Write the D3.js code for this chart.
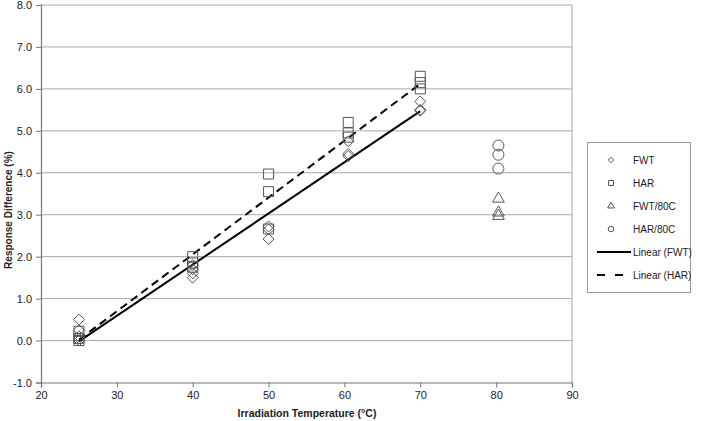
<!DOCTYPE html>
<html>
<head>
<meta charset="utf-8">
<script src="https://cdn.jsdelivr.net/npm/d3@7"></script>
<style>
  body { margin: 0; background: #fff; }
  text { font-family: "Liberation Sans", Arial, sans-serif; }
</style>
</head>
<body>
<div id="chart"></div>
<script>
// 数据：从图中读取
const fwt = [
  [25, 0.5], [25, 0.25], [25, 0.1], [25, 0.05], [25, 0.0],
  [40, 1.8], [40, 1.7], [40, 1.6], [40, 1.5],
  [50, 2.72], [50, 2.65], [50, 2.42],
  [60.5, 4.75], [60.5, 4.45], [60.5, 4.4],
  [70, 5.7], [70, 5.5], [70, 5.48]
];
const har = [
  [25, 0.22], [25, 0.05], [25, 0.0],
  [40, 2.0], [40, 1.85], [40, 1.75],
  [50, 3.97], [50, 3.55], [50, 2.66],
  [60.5, 5.2], [60.5, 4.95], [60.5, 4.85],
  [70, 6.3], [70, 6.15], [70, 6.0]
];
const fwt80 = [[80.3, 3.38], [80.3, 3.05], [80.3, 2.97]];
const har80 = [[80.3, 4.65], [80.3, 4.43], [80.3, 4.1]];
const fwtFit = [[25, -0.02], [70, 5.47]];
const harFit = [[25, 0.02], [70, 6.12]];
const xTicks = [20, 30, 40, 50, 60, 70, 80, 90];
const yTicks = [-1, 0, 1, 2, 3, 4, 5, 6, 7, 8];
const legendItems = ["FWT", "HAR", "FWT/80C", "HAR/80C", "Linear (FWT)", "Linear (HAR)"];

const width = 705, height = 421;
const mLeft = 41, mRight = 572, mTop = 5, mBottom = 382.5;

const svg = d3.select("#chart").append("svg")
  .attr("width", width).attr("height", height);

const x = d3.scaleLinear().domain([20, 90]).range([mLeft, mRight]);
const y = d3.scaleLinear().domain([-1, 8]).range([mBottom, mTop]);

// 网格线
svg.append("g")
  .selectAll("line")
  .data(yTicks.slice(1))
  .join("line")
  .attr("x1", mLeft).attr("x2", mRight)
  .attr("y1", d => y(d)).attr("y2", d => y(d))
  .style("stroke", "#a8a8a8").style("stroke-width", 1);

// 右边框
svg.append("line")
  .attr("x1", mRight).attr("x2", mRight).attr("y1", mTop).attr("y2", mBottom)
  .style("stroke", "#a8a8a8");

// 坐标轴
const xAxis = svg.append("g")
  .attr("transform", `translate(0,${mBottom})`)
  .call(d3.axisBottom(x).tickValues(xTicks).tickSize(5).tickFormat(d3.format("d")));
const yAxis = svg.append("g")
  .attr("transform", `translate(${mLeft},0)`)
  .call(d3.axisLeft(y).tickValues(yTicks).tickSize(5).tickFormat(d => d.toFixed(1)));

[xAxis, yAxis].forEach(a => {
  a.select(".domain").style("stroke", "#777").style("stroke-width", 1.2);
  a.selectAll(".tick line").style("stroke", "#777");
  a.selectAll(".tick text").style("font-size", "11px").style("fill", "#222");
});
xAxis.selectAll(".tick text").attr("dy", "0.8em");
yAxis.selectAll(".tick text").attr("dx", "-1px");

// 趋势线
const line = d3.line().x(d => x(d[0])).y(d => y(d[1]));
svg.append("path").datum(fwtFit).attr("d", line)
  .style("fill", "none").style("stroke", "#000").style("stroke-width", 2);
svg.append("path").datum(harFit).attr("d", line)
  .style("fill", "none").style("stroke", "#000").style("stroke-width", 2)
  .style("stroke-dasharray", "8,5");

// 标记
const markStyle = sel => sel.style("fill", "none").style("stroke", "#555").style("stroke-width", 1);
const sym = (type, size) => d3.symbol().type(type).size(size)();

function drawPoints(data, type, size) {
  svg.append("g").selectAll("path")
    .data(data)
    .join("path")
    .attr("d", sym(type, size))
    .attr("transform", d => `translate(${x(d[0])},${y(d[1])})`)
    .call(markStyle);
}
const diamond = {
  draw(ctx, s) { const r = Math.sqrt(s) / 2; ctx.moveTo(0, -r); ctx.lineTo(r, 0); ctx.lineTo(0, r); ctx.lineTo(-r, 0); ctx.closePath(); }
};
drawPoints(fwt, diamond, 121);
drawPoints(har, d3.symbolSquare, 100);
drawPoints(fwt80, d3.symbolTriangle, 60);
drawPoints(har80, d3.symbolCircle, 95);

// 坐标轴标题
svg.append("text")
  .attr("x", 307).attr("y", 417)
  .attr("text-anchor", "middle")
  .style("font-size", "10.5px").style("font-weight", "bold").style("fill", "#222")
  .text("Irradiation Temperature (°C)");
svg.append("text")
  .attr("transform", `translate(12,210) rotate(-90)`)
  .attr("text-anchor", "middle")
  .style("font-size", "10px").style("font-weight", "bold").style("fill", "#222")
  .text("Response Difference (%)");

// 图例
const lg = svg.append("g");
lg.append("rect")
  .attr("x", 587.5).attr("y", 142.5).attr("width", 103).attr("height", 150)
  .style("fill", "#fff").style("stroke", "#999");
const ly = d3.scalePoint().domain(legendItems).range([160, 275]);
const legendSym = [
  [diamond, 30], [d3.symbolSquare, 25], [d3.symbolTriangle, 20], [d3.symbolCircle, 25]
];
legendItems.forEach((name, i) => {
  const yy = ly(name);
  if (i < 4) {
    lg.append("path").attr("d", sym(legendSym[i][0], legendSym[i][1]))
      .attr("transform", `translate(611,${yy})`).call(markStyle);
  } else {
    lg.append("line").attr("x1", 597).attr("x2", 631).attr("y1", yy).attr("y2", yy)
      .style("stroke", "#000").style("stroke-width", 2)
      .style("stroke-dasharray", i === 5 ? "8,10" : null);
  }
  lg.append("text").attr("x", 633).attr("y", yy).attr("dy", "0.35em")
    .style("font-size", "10px").style("fill", "#222")
    .text(name);
});
</script>
</body>
</html>
